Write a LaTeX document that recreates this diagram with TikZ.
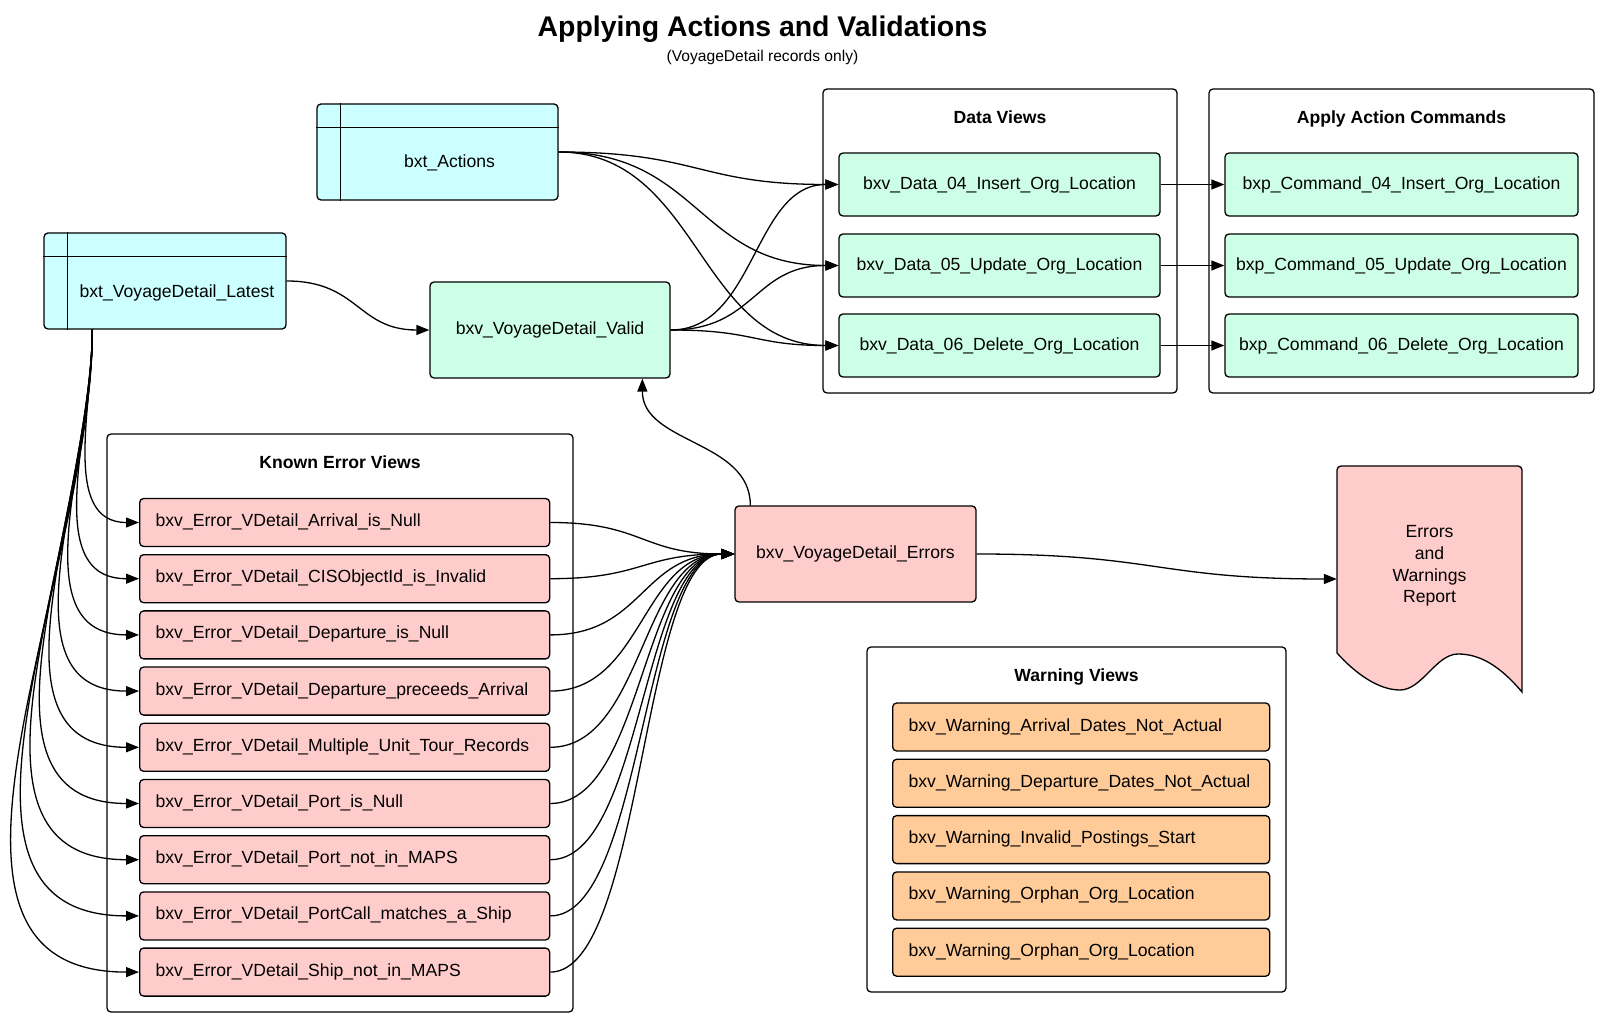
\documentclass[tikz,border=0pt]{standalone}
\usepackage{fontspec}
\setmainfont{Liberation Sans}
\usetikzlibrary{arrows.meta,calc}
\definecolor{cyanfill}{HTML}{CCFFFF}
\definecolor{greenfill}{HTML}{CCFFE6}
\definecolor{pinkfill}{HTML}{FFCCCC}
\definecolor{orangefill}{HTML}{FFCC99}
\newcommand{\bodyfont}{\fontsize{17.6}{21.6}\selectfont}
\begin{document}
\begin{tikzpicture}[x=1pt,y=1pt,
  box/.style={draw, line width=1.3pt, rounded corners=4pt, inner sep=0pt, font=\bodyfont},
  tbl/.style={box, fill=cyanfill},
  gbox/.style={box, fill=greenfill},
  pbox/.style={box, fill=pinkfill},
  ebox/.style={box, fill=pinkfill, anchor=west, minimum width=410pt, minimum height=48pt,
               text width=378pt, inner xsep=16pt, align=left, text height=13pt, text depth=5pt},
  wbox/.style={box, fill=orangefill, anchor=west, minimum width=377pt, minimum height=48pt,
               text width=345pt, inner xsep=16pt, align=left, text height=13pt, text depth=5pt},
  cont/.style={draw, line width=1.3pt, rounded corners=4pt, fill=white, inner sep=0pt},
  ctitle/.style={anchor=base, font=\bfseries\bodyfont},
  conn/.style={line width=1.3pt, -{Triangle[length=13pt,width=10pt]}},
  sep/.style={line width=1.3pt},
]
\useasboundingbox (0,0) rectangle (1600,1018);

% titles
\node[anchor=base, font=\bfseries\fontsize{28.4}{34}\selectfont] (title) at (762.5,981) {Applying Actions and Validations};
\node[anchor=base, font=\fontsize{15.6}{18}\selectfont] (subtitle) at (762.5,956) {(VoyageDetail records only)};

% containers
\node[cont, minimum width=354pt, minimum height=304pt] (dv) at (1000,777) {};
\node[ctitle] (dvt) at (1000,894) {Data Views};
\node[cont, minimum width=385pt, minimum height=304pt] (ac) at (1401.5,777) {};
\node[ctitle] (act) at (1401.5,894) {Apply Action Commands};
\node[cont, minimum width=466pt, minimum height=578pt] (ke) at (340,295) {};
\node[ctitle] (ket) at (340,549) {Known Error Views};
\node[cont, minimum width=419pt, minimum height=345pt] (wv) at (1076.5,198.5) {};
\node[ctitle] (wvt) at (1076.5,336) {Warning Views};

% tables
\node[tbl, minimum width=241pt, minimum height=96pt,
  label={[font=\bodyfont, xshift=12pt, yshift=-11pt]center:bxt\_Actions}] (actions) at (437.5,866) {};
\draw[sep] ($(actions.north west)+(24,0)$) -- ($(actions.south west)+(24,0)$);
\draw[sep] ($(actions.north west)+(0,-24)$) -- ($(actions.north east)+(0,-24)$);

\node[tbl, minimum width=242pt, minimum height=96pt,
  label={[font=\bodyfont, xshift=12pt, yshift=-12pt]center:bxt\_VoyageDetail\_Latest}] (lat) at (165,737) {};
\draw[sep] ($(lat.north west)+(24,0)$) -- ($(lat.south west)+(24,0)$);
\draw[sep] ($(lat.north west)+(0,-24)$) -- ($(lat.north east)+(0,-24)$);

% views
\node[gbox, minimum width=240pt, minimum height=96pt] (val) at (550,688) {bxv\_VoyageDetail\_Valid};
\node[gbox, minimum width=321pt, minimum height=63pt] (d4) at (999.5,833.5) {bxv\_Data\_04\_Insert\_Org\_Location};
\node[gbox, minimum width=321pt, minimum height=63pt] (d5) at (999.5,752.5) {bxv\_Data\_05\_Update\_Org\_Location};
\node[gbox, minimum width=321pt, minimum height=63pt] (d6) at (999.5,672.5) {bxv\_Data\_06\_Delete\_Org\_Location};
\node[gbox, minimum width=353pt, minimum height=63pt] (c4) at (1401.5,833.5) {bxp\_Command\_04\_Insert\_Org\_Location};
\node[gbox, minimum width=353pt, minimum height=63pt] (c5) at (1401.5,752.5) {bxp\_Command\_05\_Update\_Org\_Location};
\node[gbox, minimum width=353pt, minimum height=63pt] (c6) at (1401.5,672.5) {bxp\_Command\_06\_Delete\_Org\_Location};

% error views
\node[ebox] (e1) at (139,495.5) {bxv\_Error\_VDetail\_Arrival\_is\_Null};
\node[ebox] (e2) at (139,439.3) {bxv\_Error\_VDetail\_CISObjectId\_is\_Invalid};
\node[ebox] (e3) at (139,383.1) {bxv\_Error\_VDetail\_Departure\_is\_Null};
\node[ebox] (e4) at (139,326.9) {bxv\_Error\_VDetail\_Departure\_preceeds\_Arrival};
\node[ebox] (e5) at (139,270.7) {bxv\_Error\_VDetail\_Multiple\_Unit\_Tour\_Records};
\node[ebox] (e6) at (139,214.5) {bxv\_Error\_VDetail\_Port\_is\_Null};
\node[ebox] (e7) at (139,158.3) {bxv\_Error\_VDetail\_Port\_not\_in\_MAPS};
\node[ebox] (e8) at (139,102.1) {bxv\_Error\_VDetail\_PortCall\_matches\_a\_Ship};
\node[ebox] (e9) at (139,45.9) {bxv\_Error\_VDetail\_Ship\_not\_in\_MAPS};

\node[pbox, minimum width=241pt, minimum height=96pt] (errs) at (855.5,464) {bxv\_VoyageDetail\_Errors};

% warning views
\node[wbox] (w1) at (892,291) {bxv\_Warning\_Arrival\_Dates\_Not\_Actual};
\node[wbox] (w2) at (892,234.7) {bxv\_Warning\_Departure\_Dates\_Not\_Actual};
\node[wbox] (w3) at (892,178.4) {bxv\_Warning\_Invalid\_Postings\_Start};
\node[wbox] (w4) at (892,122.1) {bxv\_Warning\_Orphan\_Org\_Location};
\node[wbox] (w5) at (892,65.8) {bxv\_Warning\_Orphan\_Org\_Location};

% report (document shape)
\draw[line width=1.3pt, fill=pinkfill] (1337,365) [rounded corners=4pt] -- (1337,552) -- (1522,552) [sharp corners] -- (1522,326)
  .. controls (1500,352) and (1480,364) .. (1458,364)
  .. controls (1436,364) and (1422,328) .. (1400,328)
  .. controls (1378,328) and (1355,345) .. (1337,365) -- cycle;
\node[minimum width=185pt, minimum height=226pt, inner sep=0pt,
  label={[font=\bodyfont, align=center, yshift=13pt]center:Errors\\and\\Warnings\\Report}] (rep) at (1429.5,439) {};

% connectors
\coordinate (latb) at ($(lat.south west)+(49,0)$);
\foreach \i in {1,...,9} {
  \draw[conn] (latb) to[out=270,in=180] (e\i.west);
  \draw[conn] (e\i.east) .. controls +(93,0) and +(-93,0) .. (errs.west);
}
\draw[conn] (lat.east) .. controls +(72,0) and +(-72,0) .. (val.west);
\foreach \i in {4,5,6} {
  \draw[conn] (actions.east) .. controls +(140,0) and +(-140,0) .. (d\i.west);
  \draw[conn] (val.east) .. controls +(85,0) and +(-85,0) .. (d\i.west);
  \draw[conn] (d\i.east) -- (c\i.west);
}
\draw[conn] ($(errs.north west)+(16,0)$) to[out=90,in=270] ($(val.south west)+(213,0)$);
\draw[conn] (errs.east) .. controls +(180,0) and +(-180,0) .. (rep.west);
\end{tikzpicture}
\end{document}
